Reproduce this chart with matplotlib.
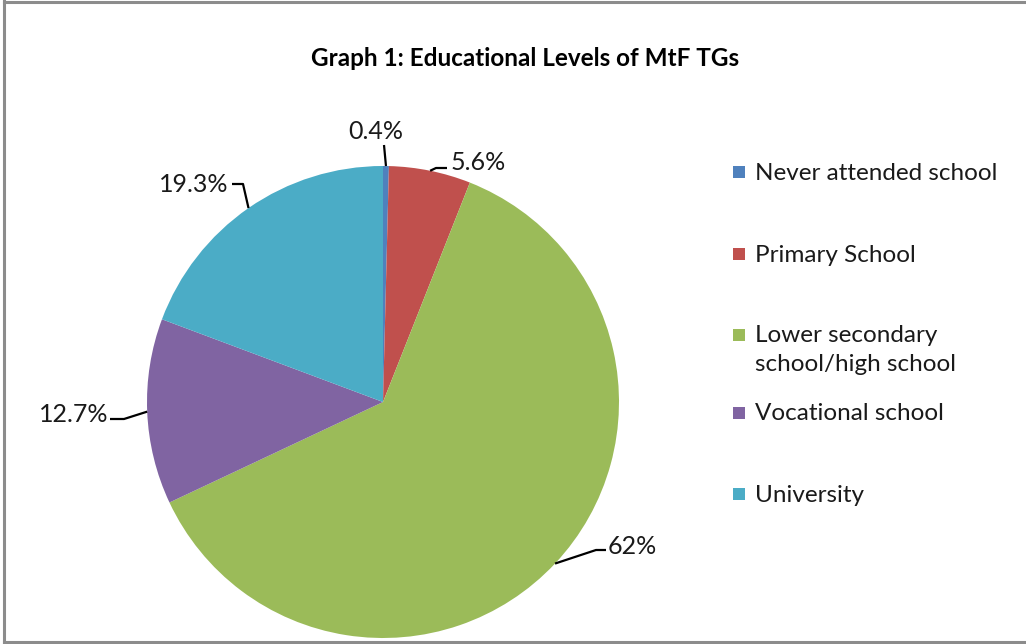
import numpy as np
import matplotlib
matplotlib.use("Agg")
import matplotlib.pyplot as plt
from matplotlib.lines import Line2D
from matplotlib.patches import Rectangle

categories = ["Never attended school", "Primary School",
              "Lower secondary\nschool/high school", "Vocational school", "University"]
values = [0.4, 5.6, 62, 12.7, 19.3]
value_labels = ["0.4%", "5.6%", "62%", "12.7%", "19.3%"]
colors = ["#4F81BD", "#C0504D", "#9BBB59", "#8064A2", "#4BACC6"]
title = "Graph 1: Educational Levels of MtF TGs"

W, H = 1026, 644
plt.rcParams['font.family'] = ['Lato', 'DejaVu Sans']
fig = plt.figure(figsize=(W / 100, H / 100), dpi=100)
ax = fig.add_axes([0, 0, 1, 1])

cx, cy, R = 383, H - 402, 236
wedges, _ = ax.pie(values, colors=colors, startangle=90, counterclock=False,
                   center=(cx, cy), radius=R,
                   wedgeprops=dict(linewidth=0))
ax.set_xlim(0, W)
ax.set_ylim(0, H)
ax.set_aspect('equal')
ax.axis('off')

layouts = [
    dict(pts=[(384, 145)], text=(376, 131), ha='center', va='center'),
    dict(pts=[(436, 168), (447, 168)], text=(451, 162), ha='left', va='center'),
    dict(pts=[(596, 550), (606, 550)], text=(608, 546), ha='left', va='center'),
    dict(pts=[(124, 419), (110, 419)], text=(108, 414), ha='right', va='center'),
    dict(pts=[(243, 184), (232, 184)], text=(228, 184), ha='right', va='center'),
]
for w, lab, lay in zip(wedges, value_labels, layouts):
    th = np.deg2rad((w.theta1 + w.theta2) / 2)
    ex, ey = cx + R * np.cos(th), cy + R * np.sin(th)
    xs = [ex] + [p[0] for p in lay['pts']]
    ys = [ey] + [H - p[1] for p in lay['pts']]
    ax.add_line(Line2D(xs, ys, color='black', lw=1.6, solid_capstyle='butt'))
    ax.text(lay['text'][0], H - lay['text'][1], lab, fontsize=18,
            ha=lay['ha'], va=lay['va'], color='#1a1a1a')

ax.text(525, H - 58, title, fontsize=17.5, fontweight='bold',
        ha='center', va='center', color='black')

leg_y = [173, 255, 350, 414, 495]
sq_y = [172, 254, 335, 413, 494]
for c, name, y, sy in zip(colors, categories, leg_y, sq_y):
    ax.add_patch(Rectangle((733, H - sy - 6), 12, 12, facecolor=c, edgecolor='none'))
    ax.text(755, H - y, name, fontsize=17.5, ha='left', va='center',
            color='#1a1a1a', linespacing=1.5)

bc = '#8C8C8C'
fig.add_artist(Line2D([4 / W, 4 / W], [1 - 1 / H, 1 - 642 / H], transform=fig.transFigure, color=bc, lw=2.2))
fig.add_artist(Line2D([4 / W, 1], [1 - 1.5 / H, 1 - 1.5 / H], transform=fig.transFigure, color=bc, lw=2.2))
fig.add_artist(Line2D([4 / W, 1], [1 - 642 / H, 1 - 642 / H], transform=fig.transFigure, color=bc, lw=2.2))

fig.savefig("out.png", dpi=100, facecolor='white')
